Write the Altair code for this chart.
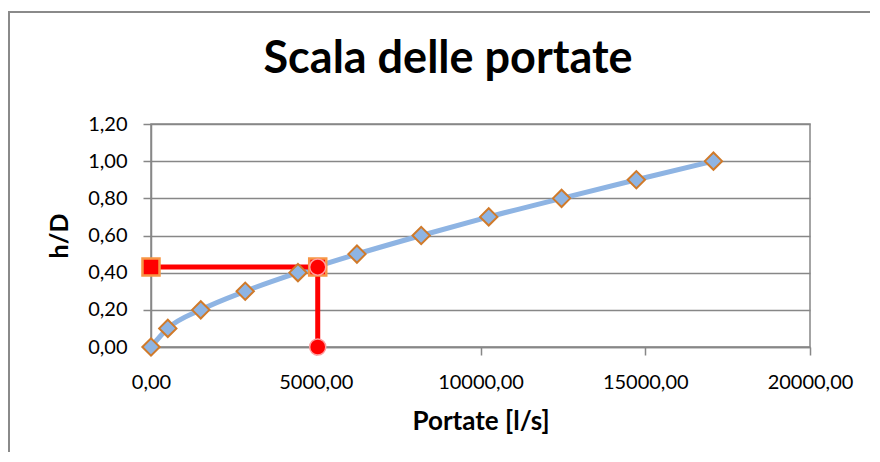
import altair as alt
import pandas as pd

# Curve: portate [l/s] vs h/D
portate = [0, 510, 1510, 2860, 4460, 6250, 8200, 10250, 12460, 14730, 17070]
h_su_D = [0.0, 0.1, 0.2, 0.3, 0.4, 0.5, 0.6, 0.7, 0.8, 0.9, 1.0]

# Red reading guide
q_target = 5060
h_target = 0.43
guide_q = [0, q_target, q_target]
guide_h = [h_target, h_target, 0.0]
guide_order = [0, 1, 2]
square_q = [0, q_target]
square_h = [h_target, h_target]
circle_q = [q_target, q_target]
circle_h = [h_target, 0.0]

x_ticks = [0, 5000, 10000, 15000, 20000]
y_ticks = [0, 0.2, 0.4, 0.6, 0.8, 1.0, 1.2]
chart_title = "Scala delle portate"

curve = pd.DataFrame({"Q": portate, "h": h_su_D})
guide = pd.DataFrame({"Q": guide_q, "h": guide_h, "o": guide_order})
squares = pd.DataFrame({"Q": square_q, "h": square_h})
circles = pd.DataFrame({"Q": circle_q, "h": circle_h})
single = pd.DataFrame({"t": [chart_title]})

FONT = "Lato"
GRAY = "#878787"
label_expr = "replace(format(datum.value, '.2f'), '.', ',')"

x_enc = alt.X(
    "Q:Q",
    scale=alt.Scale(domain=[0, 20000], nice=False, zero=False),
    axis=alt.Axis(
        values=x_ticks, labelExpr=label_expr, grid=False, tickSize=8,
        tickColor=GRAY, tickWidth=1.5, domainColor=GRAY, domainWidth=1.5,
        labelPadding=17, labelFontSize=20, labelFont=FONT, labelColor="black",
        labelFlush=False, labelOverlap=False,
        title="Portate [l/s]", titleFontSize=26, titleFont=FONT,
        titleFontWeight="bold", titleColor="black", titlePadding=16,
    ),
)
y_enc = alt.Y(
    "h:Q",
    scale=alt.Scale(domain=[0, 1.2], nice=False, zero=False),
    axis=alt.Axis(
        values=y_ticks, labelExpr=label_expr, grid=True, gridColor=GRAY,
        gridWidth=1.5, tickSize=8, tickColor=GRAY, tickWidth=1.5,
        domainColor=GRAY, domainWidth=1.5,
        labelPadding=16, labelFontSize=20, labelFont=FONT, labelColor="black",
        labelFlush=False, labelOverlap=False,
        title="h/D", titleFontSize=25, titleFont=FONT, titleFontWeight="bold",
        titleColor="black", titlePadding=15,
    ),
)

left_edge = alt.Chart(single).mark_rule(color="#8a8a8a", strokeWidth=2).encode(
    x=alt.value(-142), y=alt.value(-113), y2=alt.value(420)
)
top_edge = alt.Chart(single).mark_rule(color="#8a8a8a", strokeWidth=2).encode(
    x=alt.value(-143), x2=alt.value(780), y=alt.value(-112)
)

title = alt.Chart(single).mark_text(
    font=FONT, fontSize=45, fontWeight="bold", color="black",
    align="center", baseline="alphabetic"
).encode(text="t:N", x=alt.value(297), y=alt.value(-51))

line = alt.Chart(curve).mark_line(
    color="#8EB4E3", strokeWidth=5, interpolate="monotone"
).encode(x=x_enc, y=y_enc)

guide_line = alt.Chart(guide).mark_line(
    color="#FF0000", strokeWidth=5
).encode(x=x_enc, y=y_enc, order="o:Q")

diamonds = alt.Chart(curve).mark_point(
    shape="diamond", size=300, filled=True, fill="#8EB4E3", fillOpacity=1,
    stroke="#D07A2A", strokeWidth=2, opacity=1
).encode(x=x_enc, y=y_enc)

sq = alt.Chart(squares).mark_point(
    shape="square", size=290, filled=True, fill="#FF0000", fillOpacity=1,
    stroke="#F79646", strokeWidth=2.5, opacity=1
).encode(x=x_enc, y=y_enc)

circ = alt.Chart(circles).mark_point(
    shape="circle", size=260, filled=True, fill="#FF0000", fillOpacity=1,
    stroke="#FF9E9E", strokeWidth=1.5, opacity=1
).encode(x=x_enc, y=y_enc)

chart = alt.layer(left_edge, top_edge, title, line, guide_line, diamonds, sq, circ).properties(
    width=659,
    height=223,
    autosize=alt.AutoSizeParams(type="none"),
    padding={"left": 143, "top": 116, "right": 60, "bottom": 105},
    background="white",
).configure_view(stroke=GRAY, strokeWidth=1.5)

chart.save("out.html", embed_options={"renderer": "svg", "actions": False})
